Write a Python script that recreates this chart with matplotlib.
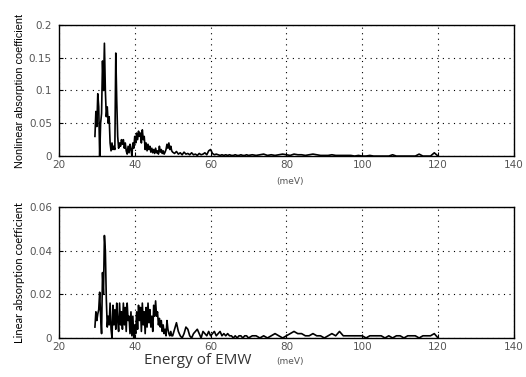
import numpy as np
import matplotlib.pyplot as plt

# energy grid (meV): dense near the resonances, coarser in the tail
energy = np.concatenate([np.arange(29.5, 50.0, 0.25),
                         np.arange(50.0, 70.0, 0.5),
                         np.arange(70.0, 120.5, 1.0)])

nonlinear_dense = [
    0.030, 0.068, 0.045, 0.095, 0.075, 0.000, 0.050, 0.065,
    0.145, 0.100, 0.172, 0.100, 0.060, 0.075, 0.050, 0.060,
    0.020, 0.008, 0.020, 0.010, 0.015, 0.010, 0.157, 0.085,
    0.030, 0.012, 0.020, 0.015, 0.025, 0.018, 0.025, 0.012,
    0.020, 0.008, 0.003, 0.015, 0.005, 0.018, 0.010, 0.000,
    0.020, 0.012, 0.030, 0.020, 0.035, 0.025, 0.038, 0.030,
    0.035, 0.020, 0.040, 0.025, 0.030, 0.010, 0.020, 0.008,
    0.018, 0.010, 0.015, 0.006, 0.012, 0.005, 0.010, 0.004,
    0.012, 0.005, 0.008, 0.003, 0.015, 0.006, 0.010, 0.004,
    0.008, 0.003, 0.006, 0.010, 0.018, 0.012, 0.020, 0.010,
    0.015, 0.008]
nonlinear_mid = [
    0.006, 0.004, 0.007, 0.003, 0.005, 0.002, 0.006, 0.003,
    0.004, 0.002, 0.005, 0.002, 0.003, 0.001, 0.004, 0.002,
    0.003, 0.005, 0.002, 0.008, 0.010, 0.004, 0.002, 0.003,
    0.002, 0.001, 0.002, 0.001, 0.002, 0.001, 0.002, 0.001,
    0.001, 0.002, 0.001, 0.001, 0.002, 0.001, 0.001, 0.002]
nonlinear_tail = [
    0.001, 0.002, 0.001, 0.002, 0.003, 0.001, 0.002, 0.001, 0.002, 0.003,
    0.002, 0.001, 0.003, 0.002, 0.002, 0.001, 0.002, 0.003, 0.002, 0.001,
    0.001, 0.001, 0.002, 0.001, 0.001, 0.001, 0.001, 0.001, 0.000, 0.001,
    0.000, 0.000, 0.001, 0.000, 0.000, 0.000, 0.000, 0.000, 0.002, 0.000,
    0.000, 0.000, 0.000, 0.000, 0.000, 0.003, 0.000, 0.000, 0.000, 0.005,
    0.000]

linear_dense = [
    0.005, 0.012, 0.008, 0.011, 0.013, 0.021, 0.010, 0.002,
    0.030, 0.020, 0.047, 0.040, 0.018, 0.005, 0.010, 0.006,
    0.016, 0.004, 0.000, 0.015, 0.006, 0.013, 0.004, 0.016,
    0.008, 0.003, 0.016, 0.006, 0.012, 0.004, 0.016, 0.006,
    0.014, 0.003, 0.016, 0.008, 0.010, 0.002, 0.012, 0.001,
    0.010, 0.000, 0.006, 0.002, 0.012, 0.004, 0.015, 0.008,
    0.014, 0.003, 0.016, 0.006, 0.012, 0.002, 0.014, 0.005,
    0.016, 0.007, 0.013, 0.005, 0.010, 0.003, 0.015, 0.010,
    0.017, 0.010, 0.012, 0.006, 0.009, 0.005, 0.008, 0.003,
    0.006, 0.002, 0.004, 0.001, 0.008, 0.004, 0.002, 0.001,
    0.003, 0.001]
linear_mid = [
    0.001, 0.004, 0.007, 0.003, 0.001, 0.000, 0.002, 0.005,
    0.004, 0.001, 0.000, 0.002, 0.003, 0.004, 0.002, 0.000,
    0.003, 0.002, 0.001, 0.003, 0.001, 0.002, 0.003, 0.001,
    0.002, 0.003, 0.001, 0.002, 0.001, 0.002, 0.001, 0.001,
    0.000, 0.001, 0.000, 0.001, 0.001, 0.000, 0.001, 0.001]
linear_tail = [
    0.000, 0.001, 0.001, 0.000, 0.001, 0.000, 0.001, 0.002, 0.001, 0.000,
    0.001, 0.002, 0.003, 0.002, 0.002, 0.001, 0.001, 0.002, 0.001, 0.001,
    0.000, 0.001, 0.002, 0.001, 0.003, 0.001, 0.001, 0.001, 0.001, 0.001,
    0.001, 0.000, 0.001, 0.001, 0.001, 0.001, 0.000, 0.001, 0.000, 0.001,
    0.001, 0.000, 0.001, 0.001, 0.001, 0.000, 0.001, 0.001, 0.001, 0.002,
    0.000]

nonlinear = np.array(nonlinear_dense + nonlinear_mid + nonlinear_tail)
linear = np.array(linear_dense + linear_mid + linear_tail)

xticks = [20, 40, 60, 80, 100, 120, 140]
yticks_top = [0, 0.05, 0.1, 0.15, 0.2]
ylabels_top = ['0', '0.05', '0.1', '0.15', '0.2']
yticks_bot = [0, 0.02, 0.04, 0.06]
ylabels_bot = ['0', '0.02', '0.04', '0.06']

fig = plt.figure(figsize=(5.26, 3.77), dpi=100)
ax1 = fig.add_axes([0.112, 0.586, 0.865, 0.348])
ax2 = fig.add_axes([0.112, 0.1035, 0.865, 0.347])

tick_col = '#555555'
for ax, y, yt, yl in [(ax1, nonlinear, yticks_top, ylabels_top),
                      (ax2, linear, yticks_bot, ylabels_bot)]:
    ax.plot(energy, y, color='black', lw=1.2)
    ax.set_xlim(20, 140)
    ax.set_ylim(yt[0], yt[-1])
    ax.set_xticks(xticks)
    ax.set_yticks(yt)
    ax.set_yticklabels(yl)
    ax.grid(True, color='black', linestyle=(0, (1, 4)), lw=0.8)
    ax.tick_params(direction='in', length=3, labelsize=7.5,
                   labelcolor=tick_col)
    ax.tick_params(axis='x', pad=3)
    ax.tick_params(axis='y', pad=5)
    for s in ax.spines.values():
        s.set_linewidth(1.0)

ax1.set_ylabel('Nonlinear absorption coefficient', fontsize=7.8,
               family='Liberation Sans', labelpad=3)
ax2.set_ylabel('Linear absorption coefficient', fontsize=8,
               family='Lato', labelpad=3)

fig.text(0.551, 0.513, '(meV)', fontsize=6.5, color=tick_col, ha='center')
fig.text(0.375, 0.035, 'Energy of EMW', fontsize=11, color='#333333',
         ha='center', family='Open Sans')
fig.text(0.551, 0.035, '(meV)', fontsize=6.5, color=tick_col, ha='center')

fig.savefig('out.png', dpi=100)
